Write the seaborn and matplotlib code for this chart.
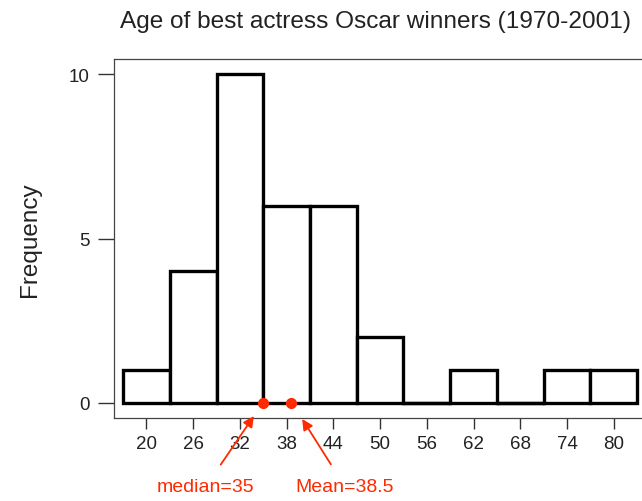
import matplotlib
matplotlib.use("Agg")
import matplotlib.pyplot as plt
import seaborn as sns
import numpy as np

# Data
bin_edges = [17, 23, 29, 35, 41, 47, 53, 59, 65, 71, 77, 83]
counts = [1, 4, 10, 6, 6, 2, 0, 1, 0, 1, 1]
x_ticks = [20, 26, 32, 38, 44, 50, 56, 62, 68, 74, 80]
y_ticks = [0, 5, 10]
median_val = 35
mean_val = 38.5
title = "Age of best actress Oscar winners (1970-2001)"
ylabel = "Frequency"

sns.set_theme(style="white")
plt.rcParams['font.family'] = ['Liberation Sans', 'DejaVu Sans']

red = "#FF2A00"
fig = plt.figure(figsize=(6.42, 5.02), dpi=100)
ax = fig.add_axes([114/642, (502-419)/502, 0.83, (419-60)/502])

centers = [(bin_edges[i] + bin_edges[i+1]) / 2 for i in range(len(counts))]
sns.histplot(x=centers, weights=counts, bins=bin_edges, ax=ax,
             color="white", edgecolor="black", linewidth=2.4, alpha=1)
# zero-height bins drawn as flat lines (as in R)
for i, c in enumerate(counts):
    if c == 0:
        ax.plot([bin_edges[i], bin_edges[i+1]], [0, 0], color="black", lw=2.4,
                solid_capstyle="projecting", zorder=3)

ax.set_xlim(15.84, 84.25)
ax.set_ylim(-0.46, 10.46)
ax.set_xticks(x_ticks)
ax.set_yticks(y_ticks)
ax.tick_params(axis='x', direction='out', length=8, width=1, color='#333333',
               labelsize=13.5, labelcolor='#222222', pad=4, bottom=True)
ax.tick_params(axis='y', direction='out', length=11.5, width=1, color='#333333',
               labelsize=13.5, labelcolor='#222222', pad=6, left=True)
for s in ax.spines.values():
    s.set_color('#444444')
    s.set_linewidth(0.9)
ax.set_xlabel("")
ax.set_ylabel(ylabel, fontsize=17.5, color='#222222', labelpad=20)

fig.text(376/642, 1 - 22/502, title, ha='center', va='center',
         fontsize=17.6, color='#222222')

ax.plot([median_val, mean_val], [0, 0], 'o', color=red, markersize=7,
        zorder=5, clip_on=False)

ax.annotate("median=35", xy=(33.8, -0.4), xytext=(27.6, -2.55),
            ha='center', va='center', fontsize=14, color=red,
            annotation_clip=False,
            arrowprops=dict(arrowstyle='-|>', color=red, lw=1.3,
                            mutation_scale=16, shrinkA=9, shrinkB=0))
ax.annotate("Mean=38.5", xy=(40.0, -0.49), xytext=(45.5, -2.55),
            ha='center', va='center', fontsize=14, color=red,
            annotation_clip=False,
            arrowprops=dict(arrowstyle='-|>', color=red, lw=1.3,
                            mutation_scale=16, shrinkA=9, shrinkB=0))

fig.savefig("out.png", dpi=100)
